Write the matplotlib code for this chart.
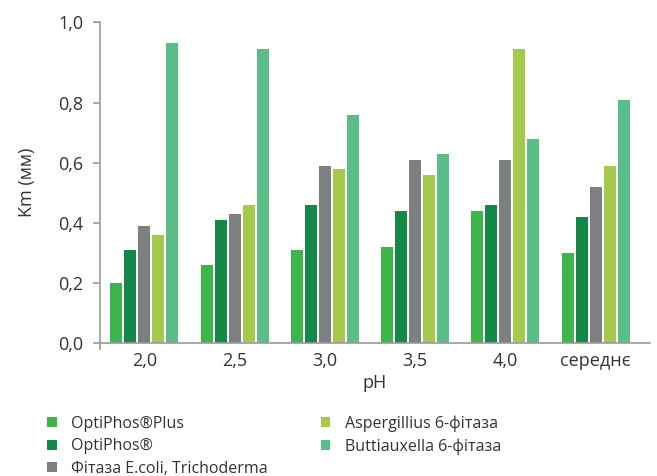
"""
Km фітаз при різних pH — згрупована стовпчикова діаграма.
"""

import numpy as np
import matplotlib
matplotlib.use("Agg")
import matplotlib.pyplot as plt

plt.rcParams['font.family'] = ['Open Sans', 'DejaVu Sans']

# --- дані ---
categories = ["2,0", "2,5", "3,0", "3,5", "4,0", "середнє"]
series_names = [
    "OptiPhos®Plus",
    "OptiPhos®",
    "Фітаза E.coli, Trichoderma",
    "Aspergillius 6-фітаза",
    "Buttiauxella 6-фітаза",
]
optiphos_plus = [0.20, 0.26, 0.31, 0.32, 0.44, 0.30]
optiphos = [0.31, 0.41, 0.46, 0.44, 0.46, 0.42]
ecoli_tricho = [0.39, 0.43, 0.59, 0.61, 0.61, 0.52]
aspergillus = [0.36, 0.46, 0.58, 0.56, 0.98, 0.59]
buttiauxella = [1.00, 0.98, 0.76, 0.63, 0.68, 0.81]
yticks = [0.0, 0.2, 0.4, 0.6, 0.8]
ytick_labels = ["0,0", "0,2", "0,4", "0,6", "0,8", "1,0"]

colors = ["#3db54b", "#148947", "#7c8080", "#a4c94b", "#5bbe88"]
axis_color = "#9a9a9a"
text_color = "#333333"


def draw_chart(fichier_image):
    fig = plt.figure(figsize=(6.57, 4.76), dpi=100)
    ax = fig.add_axes([0.1522, 0.2788, 0.837, 0.675])

    all_series = [optiphos_plus, optiphos, ecoli_tricho, aspergillus, buttiauxella]
    x = np.arange(len(categories))
    step = 0.155
    width = 0.133
    for k, (vals, col, name) in enumerate(zip(all_series, colors, series_names)):
        offset = (k - 2) * step
        ax.bar(x + offset, vals, width=width, color=col, label=name, linewidth=0)

    # верх осі трохи вище за 1,0 як в оригіналі
    y_top = 1.07
    ax.set_ylim(0, y_top)
    ax.set_yticks(yticks + [y_top])
    ax.set_yticklabels(ytick_labels)
    x_left = -0.49
    ax.set_xlim(x_left, 5.6)
    ax.set_xticks(x)
    ax.set_xticklabels(categories)
    ax.set_xticks([x_left], minor=True)

    for side in ["top", "right"]:
        ax.spines[side].set_visible(False)
    for side in ["left", "bottom"]:
        ax.spines[side].set_color(axis_color)
        ax.spines[side].set_linewidth(1.2)

    ax.tick_params(axis="y", length=5, width=1.2, color=axis_color, pad=7,
                   labelsize=13, labelcolor=text_color)
    ax.tick_params(axis="x", which="major", length=0, pad=6,
                   labelsize=13, labelcolor=text_color)
    ax.tick_params(axis="x", which="minor", length=5, width=1.2, color=axis_color)

    ax.set_ylabel("Km (мм)", fontsize=13, color=text_color, labelpad=16)
    ax.set_xlabel("pH", fontsize=13, color=text_color, labelpad=3)

    # легенда нижче графіка, дві колонки
    fig.legend(loc="upper left", bbox_to_anchor=(0.072, 0.128), ncol=2,
               frameon=False, fontsize=11.5, handlelength=0.6, handleheight=0.6,
               handletextpad=0.9, labelspacing=0.42, columnspacing=3.3,
               labelcolor=text_color, borderpad=0, borderaxespad=0)

    fig.savefig(fichier_image, dpi=100)
    plt.close(fig)


if __name__ == "__main__":
    draw_chart("out.png")
